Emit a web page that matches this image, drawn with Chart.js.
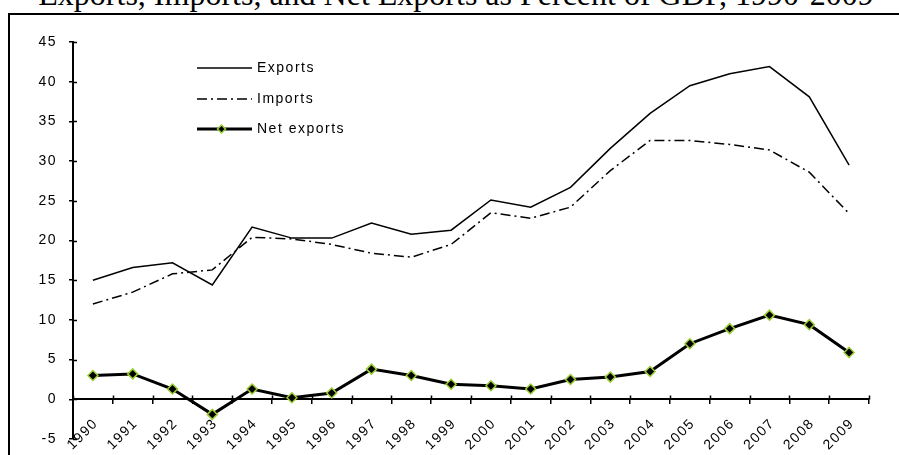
<!DOCTYPE html>
<html>
<head>
<meta charset="utf-8">
<script src="https://cdn.jsdelivr.net/npm/chart.js@4.4.1/dist/chart.umd.min.js"></script>
<style>
    html, body { margin: 0; padding: 0; background: #fff; overflow: hidden; }
    #quadro { position: relative; width: 899px; height: 455px; overflow: hidden; }
    #titulo {
        position: absolute; left: 0; top: -22px; width: 912px;
        text-align: center; white-space: nowrap;
        font: 32px "Liberation Serif", "Times New Roman", serif; line-height: 32px;
    }
    #caixa {
        position: absolute; left: 8px; top: 13px; width: 1000px; height: 1000px;
        border: 2px solid #000; pointer-events: none;
    }
    #grafico { position: absolute; left: 0; top: 0; }
</style>
</head>
<body>
<div id="quadro">
    <div id="titulo">Exports, Imports, and Net Exports as Percent of GDP, 1990-2009</div>
    <div id="caixa"></div>
    <canvas id="grafico" width="899" height="455"></canvas>
</div>
<script>
// Dados (% do PIB)
const anos = ['1990', '1991', '1992', '1993', '1994', '1995', '1996', '1997', '1998', '1999',
              '2000', '2001', '2002', '2003', '2004', '2005', '2006', '2007', '2008', '2009'];
const exportacoes = [15.0, 16.6, 17.2, 14.4, 21.7, 20.3, 20.3, 22.2, 20.8, 21.3,
                     25.1, 24.2, 26.7, 31.6, 36.0, 39.5, 41.0, 41.9, 38.1, 29.5];
const importacoes = [12.0, 13.5, 15.8, 16.3, 20.4, 20.2, 19.5, 18.4, 17.9, 19.5,
                     23.5, 22.8, 24.2, 28.8, 32.6, 32.6, 32.1, 31.4, 28.6, 23.4];
const exportLiquida = [3.0, 3.2, 1.3, -1.9, 1.3, 0.2, 0.8, 3.8, 3.0, 1.9,
                       1.7, 1.3, 2.5, 2.8, 3.5, 7.0, 8.9, 10.6, 9.4, 5.9];
const nomesSeries = ['Exports', 'Imports', 'Net exports'];
const eixoY = { min: -5, max: 45, passo: 5 };

const FONTE = '"Liberation Sans", Arial, sans-serif';
const ESPACO_LETRAS = '1.5px';
const VERDE = '#9acd32';

// Espaçamento de letras parecido com o do original
const espacamento = {
    id: 'espacamento',
    beforeDraw(chart) { chart.ctx.letterSpacing = ESPACO_LETRAS; }
};

// Linha do eixo Y e metade interna das marcas (cruzam a linha do eixo)
const tracosInternos = {
    id: 'tracosInternos',
    afterDraw(chart) {
        const { x, y } = chart.scales;
        const ctx = chart.ctx;
        const area = chart.chartArea;
        const xEixo = Math.round(y.right);
        ctx.save();
        ctx.fillStyle = '#000';
        ctx.fillRect(xEixo - 1, area.top, 2, area.bottom - area.top);
        ctx.strokeStyle = '#000';
        ctx.lineWidth = 1.5;
        ctx.beginPath();
        y.ticks.forEach((t, i) => {
            const py = Math.round(y.getPixelForTick(i)) + 0.5;
            ctx.moveTo(xEixo, py);
            ctx.lineTo(xEixo + 4, py);
        });
        const y0 = Math.round(y.getPixelForValue(0)) + 0.5;
        for (let i = 0; i <= anos.length; i++) {
            const px = Math.round(x.getPixelForValue(i - 0.5)) + 0.5;
            ctx.moveTo(px, y0);
            ctx.lineTo(px, y0 - 4);
        }
        ctx.stroke();
        ctx.restore();
    }
};

// Legenda desenhada dentro da área do gráfico
const legendaManual = {
    id: 'legendaManual',
    afterDraw(chart) {
        const ctx = chart.ctx;
        const x0 = 197, x1 = 252, xTexto = 257;
        const linhas = [68, 99, 129];
        ctx.save();
        chart.data.datasets.forEach((ds, i) => {
            const yy = linhas[i];
            ctx.strokeStyle = ds.borderColor;
            ctx.lineWidth = ds.borderWidth;
            ctx.setLineDash(ds.borderDash || []);
            ctx.beginPath();
            ctx.moveTo(x0, yy);
            ctx.lineTo(x1, yy);
            ctx.stroke();
            ctx.setLineDash([]);
            if (ds.pointRadius > 0) {
                const r = ds.pointRadius - 1;
                const cx = (x0 + x1) / 2 - 3;
                ctx.beginPath();
                ctx.moveTo(cx, yy - r);
                ctx.lineTo(cx + r, yy);
                ctx.lineTo(cx, yy + r);
                ctx.lineTo(cx - r, yy);
                ctx.closePath();
                ctx.fillStyle = ds.pointBackgroundColor;
                ctx.fill();
                ctx.lineWidth = ds.pointBorderWidth;
                ctx.strokeStyle = ds.pointBorderColor;
                ctx.stroke();
            }
            ctx.fillStyle = '#000';
            ctx.font = '14px ' + FONTE;
            ctx.letterSpacing = ESPACO_LETRAS;
            ctx.textBaseline = 'middle';
            ctx.textAlign = 'left';
            ctx.fillText(ds.label, xTexto, yy);
        });
        ctx.restore();
    }
};

const fonteTicks = { family: FONTE, size: 14 };

new Chart(document.getElementById('grafico'), {
    type: 'line',
    data: {
        labels: anos,
        datasets: [{
            label: nomesSeries[0],
            data: exportacoes,
            borderColor: '#000',
            borderWidth: 1.5,
            pointRadius: 0,
            tension: 0
        }, {
            label: nomesSeries[1],
            data: importacoes,
            borderColor: '#000',
            borderWidth: 1.5,
            borderDash: [10, 4, 2, 4],
            pointRadius: 0,
            tension: 0
        }, {
            label: nomesSeries[2],
            data: exportLiquida,
            borderColor: '#000',
            borderWidth: 3,
            pointStyle: 'rectRot',
            pointRadius: 5,
            pointBackgroundColor: '#000',
            pointBorderColor: VERDE,
            pointBorderWidth: 1.5,
            tension: 0
        }]
    },
    options: {
        responsive: false,
        animation: false,
        layout: { padding: { left: 0, top: 42, right: 30, bottom: 16 } },
        plugins: {
            legend: { display: false },
            tooltip: { enabled: false }
        },
        scales: {
            x: {
                type: 'category',
                position: { y: 0 },
                offset: true,
                grid: { offset: true, drawOnChartArea: false, drawTicks: true, tickLength: 4, color: '#000', lineWidth: 1.5 },
                border: { display: true, color: '#000', width: 2 },
                ticks: { autoSkip: false, minRotation: 45, maxRotation: 45, padding: 12, labelOffset: 3, color: '#000', font: fonteTicks }
            },
            y: {
                min: eixoY.min,
                max: eixoY.max,
                ticks: { stepSize: eixoY.passo, padding: 12, color: '#000', font: fonteTicks },
                grid: { drawOnChartArea: false, drawTicks: true, tickLength: 4, color: '#000', lineWidth: 1.5 },
                border: { display: true, color: '#000', width: 2 },
                afterFit(escala) {
                    escala.width = 73;
                    escala.paddingTop = 0;     // não deixa o rótulo empurrar a área do gráfico
                    escala.paddingBottom = 0;
                }
            }
        }
    },
    plugins: [espacamento, tracosInternos, legendaManual]
});
</script>
</body>
</html>
